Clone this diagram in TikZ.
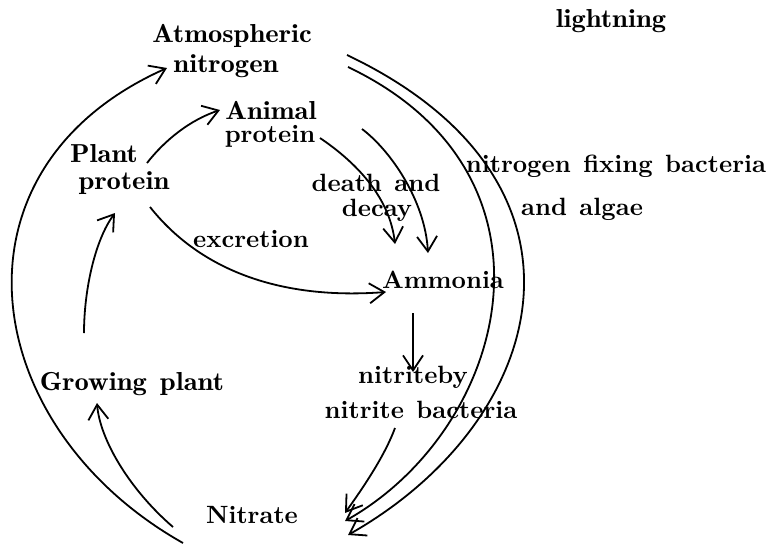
\documentclass[tikz,border=0pt]{standalone}
\usepackage{fontspec}
\setmainfont{lmromandemi10-regular.otf}[FakeStretch=1.1]
\newfontfamily\bfx{lmroman10-bold.otf}[FakeStretch=1.0]
\usetikzlibrary{arrows.meta}
\newcommand\wsp{\hspace{0.5em}}
\tikzset{
  lbl/.style={anchor=base, inner sep=0pt, font=\fontsize{26}{30}\selectfont},
  lblb/.style={lbl, font=\fontsize{25}{30}\selectfont\bfx},
  flow/.style={line width=1.8pt, -{Straight Barb[length=15pt,width=20pt]}},
}
\begin{document}
\begin{tikzpicture}[x=1pt,y=-1pt]
\useasboundingbox (0,0) rectangle (777,549);
% labels
\node[lbl]  (atm1) at (232,42)  {Atmospheric};
\node[lbl]  (atm2) at (226,72)  {nitrogen};
\node[lbl]  (light) at (611,27) {lightning};
\node[lbl]  (ani1) at (271,119) {Animal};
\node[lblb] (ani2) at (270,142) {protein};
\node[lbl]  (pl1)  at (104,162) {Plant};
\node[lbl]  (pl2)  at (124,189) {protein};
\node[lblb] (nfb)  at (616,172) {nitrogen\wsp fixing\wsp bacteria};
\node[lblb] (alg)  at (582,215) {and\wsp algae};
\node[lblb] (dd1)  at (376,191) {death\wsp and};
\node[lblb] (dd2)  at (377,216) {decay};
\node[lblb] (exc)  at (251,247) {excretion};
\node[lblb] (amm)  at (443,288) {Ammonia};
\node[lblb] (nb1)  at (413,383) {nitriteby};
\node[lblb] (nb2)  at (421,418) {nitrite\wsp bacteria};
\node[lbl]  (grow) at (132,390) {Growing\wsp plant};
\node[lblb] (nitr) at (252,523) {Nitrate};
% connector end points
\coordinate (atmO) at (347,55);
\coordinate (atmI) at (348,67);
\coordinate (atmL) at (167,68);
\coordinate (nitO) at (348,535);
\coordinate (nitI) at (345,521);
\coordinate (nitL) at (183,543);
\coordinate (nitG) at (173,527);
\coordinate (nitN) at (345,513);
\coordinate (growT) at (97,403);
\coordinate (growS) at (84,333);
\coordinate (plB) at (115,213);
\coordinate (plR) at (147,163);
\coordinate (plE) at (150,207);
\coordinate (aniL) at (220,110);
\coordinate (aniA) at (320,138);
\coordinate (aniB) at (362,129);
\coordinate (ammL) at (386,292);
\coordinate (ammA) at (395,244);
\coordinate (ammB) at (428,253);
\coordinate (ammS) at (413,313);
\coordinate (nbT) at (413,372);
\coordinate (nbS) at (395,428);
% connectors
\draw[flow] (atmO) .. controls (614,182) and (549,421) .. (nitO);
\draw[flow] (atmI) .. controls (575,175) and (508,429) .. (nitI);
\draw[flow] (nitL) .. controls (-23,427) and (-60,169) .. (atmL);
\draw[flow] (nitG) .. controls (130,490) and (100,440) .. (growT);
\draw[flow] (growS) .. controls (84,290) and (95,240) .. (plB);
\draw[flow] (plR) .. controls (165,140) and (190,120) .. (aniL);
\draw[flow] (plE) .. controls (200,270) and (280,300) .. (ammL);
\draw[flow] (aniA) .. controls (360,165) and (390,200) .. (ammA);
\draw[flow] (aniB) .. controls (390,150) and (425,200) .. (ammB);
\draw[flow] (ammS) -- (nbT);
\draw[flow] (nbS) .. controls (385,455) and (365,485) .. (nitN);
\end{tikzpicture}
\end{document}
